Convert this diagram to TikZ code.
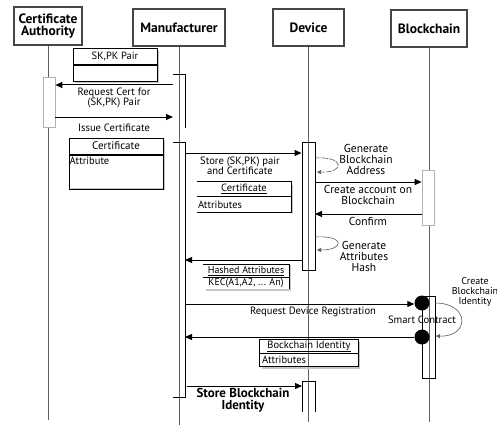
\documentclass[tikz,border=0pt]{standalone}
\usepackage{fontspec}
\setmainfont{PT Sans}
\usetikzlibrary{arrows.meta}
\begin{document}
\begin{tikzpicture}[x=1pt,y=-1pt,
  lifeline/.style={draw=gray!75!black, line width=0.6pt},
  header/.style={draw=gray!55!black, line width=1.3pt, fill=white, align=center,
    inner sep=0pt, font=\bfseries\fontsize{13.5}{12.5}\selectfont},
  msg/.style={line width=1pt, -{Triangle[length=7pt,width=6pt]}},
  selfmsg/.style={draw=gray!70!black, line width=0.6pt, -{Triangle[length=4pt,width=4pt]}},
  lbl/.style={align=center, inner sep=0pt, font=\fontsize{10.6}{10}\selectfont},
  rlbl/.style={align=center, inner sep=0pt, font=\fontsize{11.5}{11}\selectfont},
  boldlbl/.style={align=center, inner sep=0pt, font=\bfseries\fontsize{13}{12}\selectfont},
  actgray/.style={draw=gray!60, line width=0.7pt, fill=white, inner sep=0pt},
  actblack/.style={draw=black, line width=0.9pt, inner sep=0pt},
  compart/.style={inner sep=0pt, font=\fontsize{10.5}{10}\selectfont},
  classbox/.style={draw=black, line width=1pt, inner sep=0pt},
  shadowline/.style={draw=gray!45, line width=1.3pt},
  contract/.style={circle, fill=black, minimum size=15pt, inner sep=0pt},
  bar/.style={line width=1pt}
]
\useasboundingbox (0,0) rectangle (497,425);
\clip (0,0) rectangle (497,425);

% ---- participants ----
\node[header, minimum width=68, minimum height=38] (ca) at (48,26) {Certificate\\Authority};
\node[header, minimum width=92, minimum height=37] (mfr) at (179,27.5) {Manufacturer};
\node[header, minimum width=71, minimum height=37] (dev) at (308.5,27.5) {Device};
\node[header, minimum width=76, minimum height=37] (bc) at (429,28.5) {Blockchain};

% ---- lifelines ----
\coordinate (caend) at (48,420);
\coordinate (mfrend) at (179,425);
\coordinate (devend) at (308.5,422);
\coordinate (bcend) at (429,422);
\draw[lifeline] (ca.south) -- (caend);
\draw[lifeline] (mfr.south) -- (mfrend);
\draw[lifeline] (dev.south) -- (devend);
\draw[lifeline] (bc.south) -- (bcend);

% ---- SK,PK pair ----
\draw[shadowline] (75,82) -- (158,82) -- (158,51);
\node[classbox, minimum width=84, minimum height=16, font=\fontsize{10.5}{10}\selectfont] (skpk) at (115,57) {SK,PK Pair};
\node[classbox, minimum width=84, minimum height=16, anchor=north] (skpkb) at (skpk.south) {};

% ---- manufacturer activation brackets ----
\coordinate (mb1a) at (173,75);
\coordinate (mb1b) at (185,75);
\coordinate (mb1c) at (185,128);
\draw[bar] (mb1a) -- (mb1b) -- (mb1c);
\coordinate (mb2a) at (173,142);
\coordinate (mb2b) at (185,142);
\coordinate (mb2c) at (185,397);
\coordinate (mb2d) at (173,397);
\draw[bar] (mb2a) -- (mb2b) -- (mb2c) -- (mb2d);

% ---- CA activation ----
\node[actgray, minimum width=12, minimum height=50] (caact) at (49,102) {};

% request / issue certificate
\coordinate (m1) at (173,85);
\draw[msg] (m1) -- (m1 -| caact.east);
\node[lbl] (m1l) at (114,98) {Request Cert for\\(SK,PK) Pair};
\coordinate (m2) at (173,117);
\draw[msg] (m2 -| caact.east) -- (m2);
\node[lbl] (m2l) at (114,128) {Issue Certificate};

% ---- certificate ----
\draw[shadowline] (71,189) -- (164,189) -- (164,140);
\node[classbox, minimum width=94, minimum height=16, font=\fontsize{11}{10}\selectfont] (cert) at (116,146) {Certificate};
\node[classbox, minimum width=94, minimum height=34, anchor=north] (certb) at (cert.south) {};
\node[compart, anchor=north west] (certattr) at ([shift={(1,2)}]certb.north west) {Attribute};

% ---- device activation ----
\node[actblack, minimum width=13, minimum height=128] (devact) at (308.5,206) {};

% store pair and certificate
\coordinate (m3) at (185,153);
\draw[msg] (m3) -- (m3 -| devact.west);
\node[lbl] (m3l) at (240,166) {Store (SK,PK) pair\\and Certificate};

\node[compart, minimum width=94, minimum height=14] (c2) at (244,189) {\underline{Certificate}};
\node[compart, minimum width=94, minimum height=16, anchor=north] (c2b) at (c2.south) {};
\node[compart, anchor=west] (c2attr) at ([xshift=1pt]c2b.west) {Attributes};
\draw[shadowline] (c2b.south east) ++(1,1) -- ++(0,-29);
\draw[line width=1pt] (c2.north west) -- (c2.north east) -- (c2b.south east) -- (c2b.south west);
\draw[line width=1pt] (c2.south west) -- (c2.south east);

% generate blockchain address
\coordinate (g1s) at (315,158);
\coordinate (g1e) at (317,172);
\draw[selfmsg, dash pattern=on 6pt off 1pt] (g1s) .. controls (345,156) and (345,173) .. (g1e);
\node[rlbl] (g1l) at (366,159) {Generate\\Blockchain\\Address};

% ---- blockchain activation ----
\node[actgray, minimum width=12, minimum height=55] (bcact) at (428,197.5) {};

\coordinate (m4) at (315,182);
\draw[msg] (m4) -- (m4 -| bcact.west);
\node[rlbl] (m4l) at (368,195) {Create account on\\Blockchain};
\coordinate (m5) at (315,214);
\draw[msg] (m5 -| bcact.west) -- (m5);
\node[rlbl] (m5l) at (368,221) {Confirm};

% generate attributes hash
\coordinate (g2s) at (315,237);
\coordinate (g2e) at (317,250);
\draw[selfmsg] (g2s) .. controls (345,235) and (345,250) .. (g2e);
\node[rlbl] (g2l) at (364,256) {Generate\\Attributes\\Hash};

% hashed attributes
\coordinate (m6) at (185,260);
\draw[msg] (m6 -| devact.west) -- (m6);
\node[compart, minimum width=86, minimum height=12, font=\fontsize{10}{9}\selectfont] (ha) at (246,271) {\underline{Hashed Attributes}};
\node[compart, minimum width=86, minimum height=11, anchor=north, font=\fontsize{10}{9}\selectfont] (hab) at (ha.south) {KEC(A1,A2, ... An)};
\draw[shadowline] ([shift={(3,1.5)}]hab.south west) -- ([shift={(1,1.5)}]hab.south east) -- ([shift={(1,0)}]ha.north east);
\draw[line width=1pt] (ha.north west) -- (ha.north east) -- (hab.south east);
\draw[line width=1pt] (ha.south west) -- (ha.south east);

% ---- smart contract ----
\node[actblack, minimum width=13, minimum height=82] (bcact2) at (428.5,337) {};
\node[contract] (sc1) at (422,303) {};
\node[contract] (sc2) at (422,337) {};
\node[lbl] (scl) at (422,319.5) {Smart Contract};

\coordinate (m7) at (185,304);
\draw[msg] (m7) -- (m7 -| sc1.west);
\node[lbl] (m7l) at (313,312) {Request Device Registration};

\coordinate (g3s) at (435,303);
\coordinate (g3e) at (436,336);
\draw[selfmsg] (g3s) .. controls (470,303) and (470,337) .. (g3e);
\node[lbl, font=\fontsize{10}{10}\selectfont] (g3l) at (475,292) {Create\\Blockchain\\Identity};

\coordinate (m8) at (185,337);
\draw[msg] (m8 -| sc2.west) -- (m8);

% blockchain identity
\node[compart, minimum width=98, minimum height=13] (bi) at (309,346.5) {\underline{Bockchain Identity}};
\node[compart, minimum width=98, minimum height=13, anchor=north] (bib) at (bi.south) {};
\node[compart, anchor=west] (biattr) at ([xshift=2pt]bib.west) {Attributes};
\draw[shadowline] ([shift={(2,1.5)}]bib.south west) -- ([shift={(1.5,1.5)}]bib.south east) -- ([shift={(1.5,2)}]bi.north east);
\draw[line width=1pt] (bi.north west) rectangle (bib.south east);
\draw[line width=1pt] (bi.south west) -- (bi.south east);

% store blockchain identity
\coordinate (dv3l) at (302,412);
\coordinate (dv3a) at (302,381);
\coordinate (dv3b) at (315,381);
\coordinate (dv3r) at (315,412);
\draw[line width=0.9pt] (dv3l) -- (dv3a) -- (dv3b) -- (dv3r);
\coordinate (m9) at (187,386);
\draw[msg] (m9) -- (m9 -| dv3a);
\node[boldlbl] (m9l) at (243,400) {Store Blockchain\\Identity};

\end{tikzpicture}
\end{document}
